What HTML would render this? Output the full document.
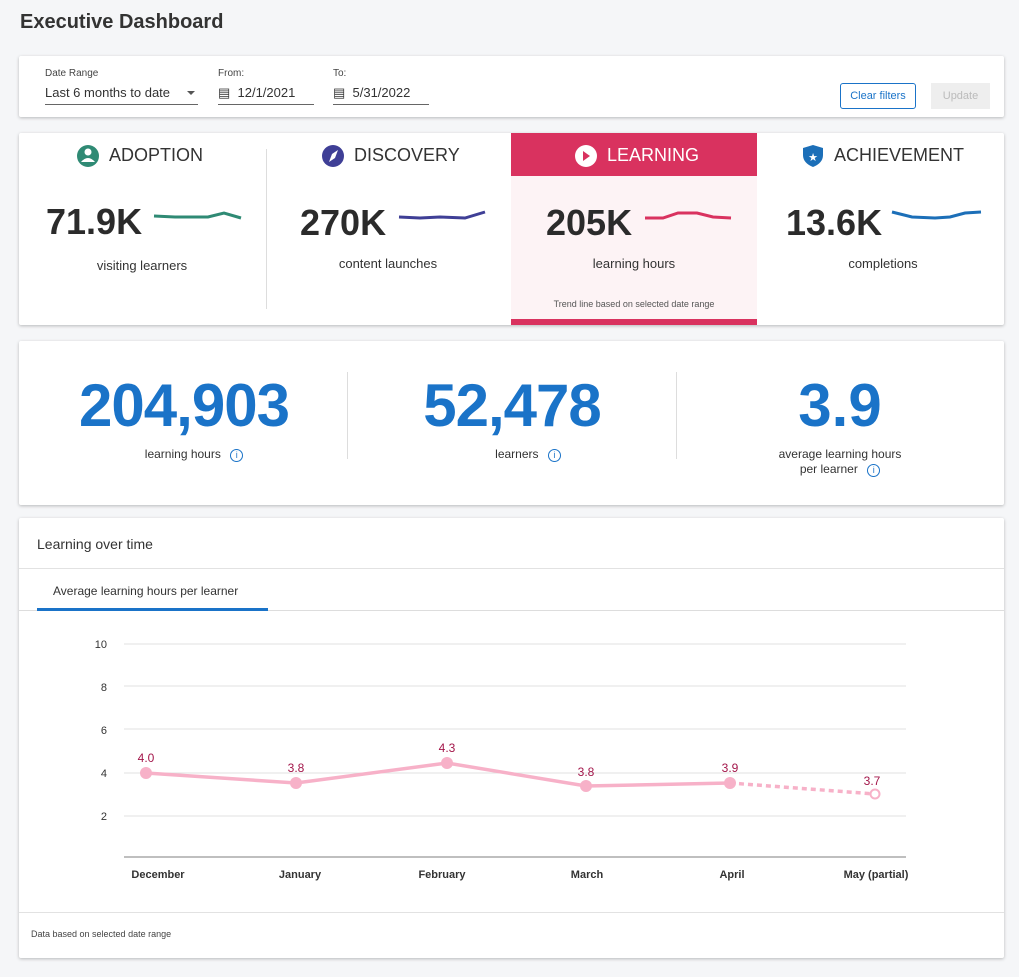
<!DOCTYPE html>
<html><head><meta charset="utf-8"><style>
*{box-sizing:border-box;margin:0;padding:0}
body{width:1019px;height:977px;background:#f5f6f8;font-family:"Liberation Sans",sans-serif;color:#333;position:relative;overflow:hidden}
.a{position:absolute}
.card{position:absolute;background:#fff;box-shadow:0 1px 3px rgba(0,0,0,.25);border-radius:2px}
.c{text-align:center}
</style></head><body>
<div class="a" style="left:20px;top:11px;font-size:20px;font-weight:bold;color:#333">Executive Dashboard</div>

<div class="card" style="left:19px;top:56px;width:985px;height:61px"></div>
<div class="a" style="left:45px;top:68px;font-size:10px;color:#444">Date Range</div>
<div class="a" style="left:45px;top:85px;font-size:13px">Last 6 months to date</div>
<div class="a" style="left:187px;top:91px;width:0;height:0;border-left:4px solid transparent;border-right:4px solid transparent;border-top:4px solid #555"></div>
<div class="a" style="left:45px;top:104px;width:153px;height:1px;background:#666"></div>
<div class="a" style="left:218px;top:68px;font-size:10px;color:#444">From:</div>
<div class="a" style="left:218px;top:85px;font-size:13px">&#9636;&nbsp; 12/1/2021</div>
<div class="a" style="left:218px;top:104px;width:96px;height:1px;background:#666"></div>
<div class="a" style="left:333px;top:68px;font-size:10px;color:#444">To:</div>
<div class="a" style="left:333px;top:85px;font-size:13px">&#9636;&nbsp; 5/31/2022</div>
<div class="a" style="left:333px;top:104px;width:96px;height:1px;background:#666"></div>
<div class="a c" style="left:840px;top:83px;width:76px;height:26px;border:1px solid #1a73c8;border-radius:3px;color:#1a73c8;font-size:11px;line-height:24px">Clear filters</div>
<div class="a c" style="left:931px;top:83px;width:59px;height:26px;background:#eee;color:#bbb;font-size:11px;line-height:26px">Update</div>

<div class="card" style="left:19px;top:133px;width:985px;height:192px"></div>
<div class="a" style="left:511px;top:133px;width:246px;height:192px;background:#fdf3f5"></div>
<div class="a" style="left:511px;top:133px;width:246px;height:43px;background:#d9325f"></div>
<div class="a" style="left:511px;top:319px;width:246px;height:6px;background:#d9325f"></div>
<div class="a" style="left:266px;top:149px;width:1px;height:160px;background:#ddd"></div>

<svg class="a" style="left:0;top:0" width="1019" height="330">
<circle cx="88" cy="156" r="11" fill="#2f8a74"/><circle cx="88" cy="152" r="3.5" fill="#fff"/><path d="M81 162 q7 -8 14 0" fill="#fff"/>
<circle cx="333" cy="156" r="11" fill="#3f3f96"/><path d="M338 150 l-3 8 -6 4 3 -8z" fill="#fff"/>
<circle cx="586" cy="156" r="11" fill="#fff"/><path d="M583 151 l7 5 -7 5z" fill="#d9325f"/>
<path d="M813 145 l10 3 v7 q0 8 -10 12 q-10 -4 -10 -12 v-7z" fill="#1c6fb8"/><text x="813" y="161" font-size="11" fill="#fff" text-anchor="middle">★</text>
<polyline points="154,216 175,217 195,217 208,217 224,213 241,218" fill="none" stroke="#2f8a74" stroke-width="3"/>
<polyline points="399,217 420,218 440,217 465,218 485,212" fill="none" stroke="#3f3f96" stroke-width="3"/>
<polyline points="645,218 663,218 678,213 697,213 713,217 731,218" fill="none" stroke="#d9325f" stroke-width="3"/>
<polyline points="892,212 912,217 935,218 950,217 965,213 981,212" fill="none" stroke="#1c6fb8" stroke-width="3"/>
</svg>
<div class="a" style="left:109px;top:145px;font-size:18px;color:#333">ADOPTION</div>
<div class="a" style="left:354px;top:145px;font-size:18px;color:#333">DISCOVERY</div>
<div class="a" style="left:607px;top:145px;font-size:18px;color:#fff">LEARNING</div>
<div class="a" style="left:834px;top:145px;font-size:18px;color:#333">ACHIEVEMENT</div>
<div class="a" style="left:46px;top:201px;font-size:36px;font-weight:bold;color:#2b2b2b">71.9K</div>
<div class="a" style="left:300px;top:202px;font-size:36px;font-weight:bold;color:#2b2b2b">270K</div>
<div class="a" style="left:546px;top:202px;font-size:36px;font-weight:bold;color:#2b2b2b">205K</div>
<div class="a" style="left:786px;top:202px;font-size:36px;font-weight:bold;color:#2b2b2b">13.6K</div>
<div class="a c" style="left:72px;top:258px;width:140px;font-size:13px">visiting learners</div>
<div class="a c" style="left:318px;top:256px;width:140px;font-size:13px">content launches</div>
<div class="a c" style="left:564px;top:256px;width:140px;font-size:13px">learning hours</div>
<div class="a c" style="left:813px;top:256px;width:140px;font-size:13px">completions</div>
<div class="a c" style="left:511px;top:299px;width:246px;font-size:9px;color:#555">Trend line based on selected date range</div>

<div class="card" style="left:19px;top:341px;width:985px;height:164px"></div>
<div class="a" style="left:347px;top:372px;width:1px;height:87px;background:#ddd"></div>
<div class="a" style="left:676px;top:372px;width:1px;height:87px;background:#ddd"></div>
<div class="a c" style="left:34px;top:371px;width:300px;font-size:60px;font-weight:bold;color:#1a73c8;letter-spacing:-1px">204,903</div>
<div class="a c" style="left:362px;top:371px;width:300px;font-size:60px;font-weight:bold;color:#1a73c8;letter-spacing:-1px">52,478</div>
<div class="a c" style="left:690px;top:371px;width:300px;font-size:60px;font-weight:bold;color:#1a73c8">3.9</div>
<div class="a c" style="left:94px;top:447px;width:200px;font-size:12px">learning hours <span style="display:inline-block;width:13px;height:13px;border:1px solid #1a73c8;border-radius:50%;color:#1a73c8;font-size:9px;line-height:11px;margin-left:6px">i</span></div>
<div class="a c" style="left:428px;top:447px;width:200px;font-size:12px">learners <span style="display:inline-block;width:13px;height:13px;border:1px solid #1a73c8;border-radius:50%;color:#1a73c8;font-size:9px;line-height:11px;margin-left:6px">i</span></div>
<div class="a c" style="left:740px;top:447px;width:200px;font-size:12px;line-height:15px">average learning hours<br>per learner <span style="display:inline-block;width:13px;height:13px;border:1px solid #1a73c8;border-radius:50%;color:#1a73c8;font-size:9px;line-height:11px;margin-left:6px">i</span></div>

<div class="card" style="left:19px;top:518px;width:985px;height:440px"></div>
<div class="a" style="left:37px;top:536px;font-size:14px;color:#333">Learning over time</div>
<div class="a" style="left:19px;top:568px;width:985px;height:1px;background:#e2e2e2"></div>
<div class="a" style="left:53px;top:584px;font-size:12px;color:#333">Average learning hours per learner</div>
<div class="a" style="left:19px;top:610px;width:985px;height:1px;background:#ddd"></div>
<div class="a" style="left:37px;top:608px;width:231px;height:3px;background:#1a73c8"></div>
<div class="a" style="left:19px;top:912px;width:985px;height:1px;background:#e2e2e2"></div>
<div class="a" style="left:31px;top:929px;font-size:9px;color:#444">Data based on selected date range</div>

<svg class="a" style="left:0;top:0" width="1019" height="977" font-family="Liberation Sans" >
<g stroke="#e2e2e2" stroke-width="1">
<line x1="124" y1="644" x2="906" y2="644"/><line x1="124" y1="686" x2="906" y2="686"/><line x1="124" y1="729" x2="906" y2="729"/><line x1="124" y1="773" x2="906" y2="773"/><line x1="124" y1="816" x2="906" y2="816"/></g>
<line x1="124" y1="857" x2="906" y2="857" stroke="#aaa" stroke-width="1.5"/>
<g font-size="11" fill="#333" text-anchor="end"><text x="107" y="648">10</text><text x="107" y="691">8</text><text x="107" y="734">6</text><text x="107" y="777">4</text><text x="107" y="820">2</text></g>
<g font-size="11" fill="#333" text-anchor="middle" font-weight="bold"><text x="158" y="878">December</text><text x="300" y="878">January</text><text x="442" y="878">February</text><text x="587" y="878">March</text><text x="732" y="878">April</text><text x="876" y="878">May (partial)</text></g>
<polyline points="146,773 296,783 447,763 586,786 730,783" fill="none" stroke="#f7b1c8" stroke-width="3.5"/>
<line x1="730" y1="783" x2="875" y2="794" stroke="#f7b1c8" stroke-width="3.5" stroke-dasharray="5,4"/>
<g fill="#f7b1c8"><circle cx="146" cy="773" r="6"/><circle cx="296" cy="783" r="6"/><circle cx="447" cy="763" r="6"/><circle cx="586" cy="786" r="6"/><circle cx="730" cy="783" r="6"/></g>
<circle cx="875" cy="794" r="4.5" fill="#fff" stroke="#f7b1c8" stroke-width="2"/>
<g font-size="12" fill="#a3164a" text-anchor="middle"><text x="146" y="762">4.0</text><text x="296" y="772">3.8</text><text x="447" y="752">4.3</text><text x="586" y="776">3.8</text><text x="730" y="772">3.9</text><text x="872" y="785">3.7</text></g>
</svg>
</body></html>
